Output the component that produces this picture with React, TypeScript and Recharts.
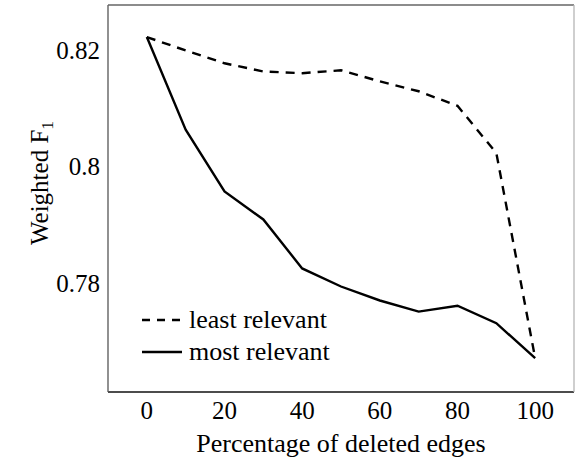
import React from 'react';
import { LineChart, Line, XAxis, YAxis, Legend } from 'recharts';

const percentages = [0, 10, 20, 30, 40, 50, 60, 70, 80, 90, 100];
const leastRelevant = [0.8222, 0.8199, 0.8177, 0.8163, 0.816, 0.8165, 0.8146, 0.8129, 0.8104, 0.8023, 0.7671];
const mostRelevant = [0.8222, 0.8063, 0.7957, 0.7909, 0.7825, 0.7794, 0.777, 0.7751, 0.7761, 0.7731, 0.7671];
const xMajorTicks = [0, 20, 40, 60, 80, 100];
const xMinorTicks = [10, 30, 50, 70, 90];
const yMajorTicks = [0.78, 0.8, 0.82];
const yMinorTicks = [0.77, 0.79, 0.81];
const yTickLabels = ['0.78', '0.8', '0.82'];
const xDomain: [number, number] = [-10, 110];
const yDomain: [number, number] = [0.7613, 0.8277];
const seriesNames = ['least relevant', 'most relevant'];
const xLabel = 'Percentage of deleted edges';
const yLabelMain = 'Weighted F';
const yLabelSub = '1';

const data = percentages.map((p, i) => ({ p, least: leastRelevant[i], most: mostRelevant[i] }));

const FONT = '"Liberation Serif", "Times New Roman", serif';
const FS = 25;
const TICK_COLOR = '#8a8a8a';

const renderLegend = (props: any) => {
  const payload = props.payload || [];
  return (
    <div style={{ fontFamily: FONT, fontSize: 26, color: '#000' }}>
      {payload.map((entry: any, i: number) => (
        <div key={i} style={{ display: 'flex', alignItems: 'center', height: 32, whiteSpace: 'nowrap' }}>
          <svg width={47} height={32} style={{ display: 'block' }}>
            <line
              x1={0}
              y1={16}
              x2={40}
              y2={16}
              stroke="#000"
              strokeWidth={2.4}
              strokeDasharray={entry.payload && entry.payload.strokeDasharray ? '8 7' : undefined}
            />
          </svg>
          <span style={{ lineHeight: '32px' }}>{entry.value}</span>
        </div>
      ))}
    </div>
  );
};

const YLabel = (props: any) => {
  const vb = props.viewBox || { x: 0, y: 0, width: 0, height: 0 };
  return (
    <text
      transform={`translate(${vb.x + 48}, ${vb.y + 178}) rotate(-90)`}
      textAnchor="middle"
      fontFamily={FONT}
      fontSize={FS}
      fill="#000"
    >
      <tspan>{yLabelMain}</tspan>
      <tspan fontSize={FS * 0.7} dy={5}>{yLabelSub}</tspan>
    </text>
  );
};

export default function App() {
  return (
    <div style={{ position: 'absolute', left: 0, top: 0 }}>
      <LineChart width={575} height={459} data={data} margin={{ top: 5, right: 1, bottom: 0, left: 0 }}>
        <XAxis
          xAxisId="main"
          dataKey="p"
          type="number"
          domain={xDomain}
          allowDataOverflow
          ticks={xMajorTicks}
          interval={0}
          height={67}
          tickLine={false}
          tickSize={0}
          tickMargin={9}
          axisLine={{ stroke: '#111', strokeWidth: 1.3 }}
          tick={{ fontFamily: FONT, fontSize: FS, fill: '#000' }}
          label={{ value: xLabel, position: 'insideBottom', offset: 7, style: { fontFamily: FONT, fontSize: 26, fill: '#000' } }}
        />
        <YAxis
          yAxisId="main"
          type="number"
          domain={yDomain}
          allowDataOverflow
          ticks={yMajorTicks}
          interval={0}
          width={108}
          tickLine={false}
          tickSize={0}
          tickMargin={8}
          axisLine={{ stroke: '#555', strokeWidth: 1.3 }}
          tick={{ fontFamily: FONT, fontSize: FS, fill: '#000' }}
          tickFormatter={(v: number) => {
            const idx = yMajorTicks.indexOf(v);
            return idx >= 0 ? yTickLabels[idx] : String(v);
          }}
          label={<YLabel />}
        />
        <XAxis xAxisId="bMaj" type="number" domain={xDomain} allowDataOverflow ticks={xMajorTicks} interval={0}
          orientation="bottom" mirror height={1} tick={false} tickSize={10} axisLine={false}
          tickLine={{ stroke: TICK_COLOR, strokeWidth: 1 }} />
        <XAxis xAxisId="bMin" type="number" domain={xDomain} allowDataOverflow ticks={xMinorTicks} interval={0}
          orientation="bottom" mirror height={1} tick={false} tickSize={7} axisLine={false}
          tickLine={{ stroke: TICK_COLOR, strokeWidth: 1 }} />
        <XAxis xAxisId="tMaj" type="number" domain={xDomain} allowDataOverflow ticks={xMajorTicks} interval={0}
          orientation="top" mirror height={1} tick={false} tickSize={10}
          axisLine={{ stroke: '#666', strokeWidth: 1.3 }}
          tickLine={{ stroke: TICK_COLOR, strokeWidth: 1 }} />
        <XAxis xAxisId="tMin" type="number" domain={xDomain} allowDataOverflow ticks={xMinorTicks} interval={0}
          orientation="top" mirror height={1} tick={false} tickSize={7} axisLine={false}
          tickLine={{ stroke: TICK_COLOR, strokeWidth: 1 }} />
        <YAxis yAxisId="lMaj" type="number" domain={yDomain} allowDataOverflow ticks={yMajorTicks} interval={0}
          orientation="left" mirror width={1} tick={false} tickSize={10} axisLine={false}
          tickLine={{ stroke: TICK_COLOR, strokeWidth: 1 }} />
        <YAxis yAxisId="lMin" type="number" domain={yDomain} allowDataOverflow ticks={yMinorTicks} interval={0}
          orientation="left" mirror width={1} tick={false} tickSize={7} axisLine={false}
          tickLine={{ stroke: TICK_COLOR, strokeWidth: 1 }} />
        <YAxis yAxisId="rMaj" type="number" domain={yDomain} allowDataOverflow ticks={yMajorTicks} interval={0}
          orientation="right" mirror width={1} tick={false} tickSize={10}
          axisLine={{ stroke: '#b5b5b5', strokeWidth: 1.3 }}
          tickLine={{ stroke: TICK_COLOR, strokeWidth: 1 }} />
        <YAxis yAxisId="rMin" type="number" domain={yDomain} allowDataOverflow ticks={yMinorTicks} interval={0}
          orientation="right" mirror width={1} tick={false} tickSize={7} axisLine={false}
          tickLine={{ stroke: TICK_COLOR, strokeWidth: 1 }} />

        <Line
          xAxisId="main"
          yAxisId="main"
          dataKey="least"
          name={seriesNames[0]}
          stroke="#000"
          strokeWidth={2.4}
          strokeDasharray="9 7"
          dot={false}
          activeDot={false}
          isAnimationActive={false}
        />
        <Line
          xAxisId="main"
          yAxisId="main"
          dataKey="most"
          name={seriesNames[1]}
          stroke="#000"
          strokeWidth={2.4}
          dot={false}
          activeDot={false}
          isAnimationActive={false}
        />
        <Legend
          layout="vertical"
          verticalAlign="middle"
          align="center"
          content={renderLegend}
          wrapperStyle={{ left: 142, top: 304, width: 'auto', height: 'auto' }}
        />
      </LineChart>
    </div>
  );
}
